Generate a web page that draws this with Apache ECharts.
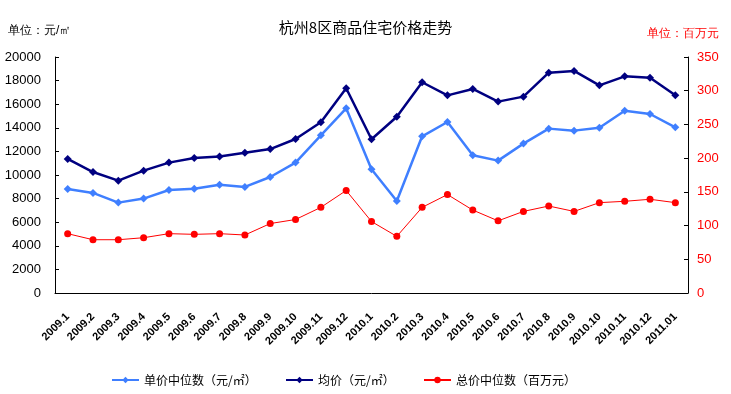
<!DOCTYPE html>
<html>
<head>
<meta charset="utf-8">
<script src="https://cdn.jsdelivr.net/npm/echarts@6/dist/echarts.min.js"></script>
<style>
html,body{margin:0;padding:0;background:#fff;}
#c{width:731px;height:394px;}
</style>
</head>
<body>
<div id="c"></div>
<script>
var categories = ['2009.1','2009.2','2009.3','2009.4','2009.5','2009.6','2009.7','2009.8','2009.9','2009.10','2009.11','2009.12',
  '2010.1','2010.2','2010.3','2010.4','2010.5','2010.6','2010.7','2010.8','2010.9','2010.10','2010.11','2010.12','2011.01'];
var unitMedian = [8810, 8480, 7660, 8000, 8730, 8840, 9180, 8990, 9830, 11050, 13360, 15650,
  10480, 7800, 13280, 14490, 11670, 11220, 12660, 13930, 13760, 14010, 15450, 15170, 14040];
var avgPrice = [11360, 10250, 9520, 10370, 11050, 11440, 11560, 11890, 12200, 13050, 14470, 17350,
  13030, 14940, 17860, 16750, 17290, 16220, 16640, 18670, 18820, 17600, 18360, 18250, 16750];
var totalMedian = [88, 79, 79, 82, 88, 87, 88, 86, 103, 109, 127, 152,
  106, 84, 127, 146, 123, 107, 121, 129, 121, 134, 136, 139, 134];
var seriesNames = ['单价中位数（元/㎡）', '均价（元/㎡）', '总价中位数（百万元）'];
var leftTicks = {min: 0, max: 20000, interval: 2000};
var rightTicks = {min: 0, max: 350, interval: 50};

var ff = "'Liberation Sans', 'Noto Sans CJK SC', sans-serif";
var chart = echarts.init(document.getElementById('c'), null, {renderer: 'canvas'});
chart.setOption({
  animation: false,
  backgroundColor: '#fff',
  textStyle: {fontFamily: ff},
  title: {
    text: '杭州8区商品住宅价格走势',
    left: 'center', top: 15,
    textStyle: {fontSize: 15, fontWeight: 'normal', color: '#000', fontFamily: "'Noto Sans CJK SC', sans-serif"}
  },
  graphic: [
    {type: 'text', left: 8, top: 25, style: {text: '单位：元/㎡', fontSize: 12, fill: '#000', font: "12px 'Noto Sans CJK SC', sans-serif"}},
    {type: 'text', left: 647, top: 28, style: {text: '单位：百万元', fontSize: 12, fill: '#f00', font: "12px 'Noto Sans CJK SC', sans-serif"}}
  ],
  legend: [
    {data: [seriesNames[0]], left: 106, top: 369, itemWidth: 27, itemHeight: 8, itemGap: 4,
     textStyle: {fontSize: 12, color: '#000', fontFamily: "'Noto Sans CJK SC', sans-serif"}},
    {data: [seriesNames[1]], left: 280, top: 369, itemWidth: 27, itemHeight: 8, itemGap: 4,
     textStyle: {fontSize: 12, color: '#000', fontFamily: "'Noto Sans CJK SC', sans-serif"}},
    {data: [seriesNames[2]], left: 418, top: 369, itemWidth: 27, itemHeight: 8, itemGap: 4,
     textStyle: {fontSize: 12, color: '#000', fontFamily: "'Noto Sans CJK SC', sans-serif"}}
  ],
  grid: {left: 55, right: 43, top: 57, bottom: 101, containLabel: false},
  xAxis: {
    type: 'category',
    data: categories,
    boundaryGap: true,
    axisLine: {lineStyle: {color: '#000', width: 1}},
    axisTick: {inside: true, length: 4, lineStyle: {color: '#000'}},
    axisLabel: {interval: 0, rotate: 45, fontSize: 11, fontWeight: 'bold', color: '#000', margin: 22, fontFamily: ff}
  },
  yAxis: [
    {
      type: 'value', position: 'left',
      min: leftTicks.min, max: leftTicks.max, interval: leftTicks.interval,
      axisLine: {show: true, lineStyle: {color: '#000', width: 1}},
      axisTick: {show: true, inside: true, length: 4, lineStyle: {color: '#000'}},
      axisLabel: {fontSize: 13, color: '#000', margin: 14, fontFamily: ff, formatter: function (v) { return String(v); }},
      splitLine: {show: false}
    },
    {
      type: 'value', position: 'right',
      min: rightTicks.min, max: rightTicks.max, interval: rightTicks.interval,
      axisLine: {show: true, lineStyle: {color: '#000', width: 1}},
      axisTick: {show: true, inside: true, length: 4, lineStyle: {color: '#000'}},
      axisLabel: {fontSize: 13, color: '#f00', margin: 9, fontFamily: ff, formatter: function (v) { return String(v); }},
      splitLine: {show: false}
    }
  ],
  series: [
    {name: seriesNames[0], type: 'line', yAxisIndex: 0, data: unitMedian,
     symbol: 'diamond', symbolSize: 8, color: '#3f7fff',
     lineStyle: {width: 2.5, color: '#3f7fff'}, itemStyle: {color: '#3f7fff'}},
    {name: seriesNames[1], type: 'line', yAxisIndex: 0, data: avgPrice,
     symbol: 'diamond', symbolSize: 8, color: '#000080',
     lineStyle: {width: 2.5, color: '#000080'}, itemStyle: {color: '#000080'}},
    {name: seriesNames[2], type: 'line', yAxisIndex: 1, data: totalMedian,
     symbol: 'circle', symbolSize: 7, color: '#ff0000',
     lineStyle: {width: 1, color: '#ff0000'}, itemStyle: {color: '#ff0000'}}
  ]
});
</script>
</body>
</html>
